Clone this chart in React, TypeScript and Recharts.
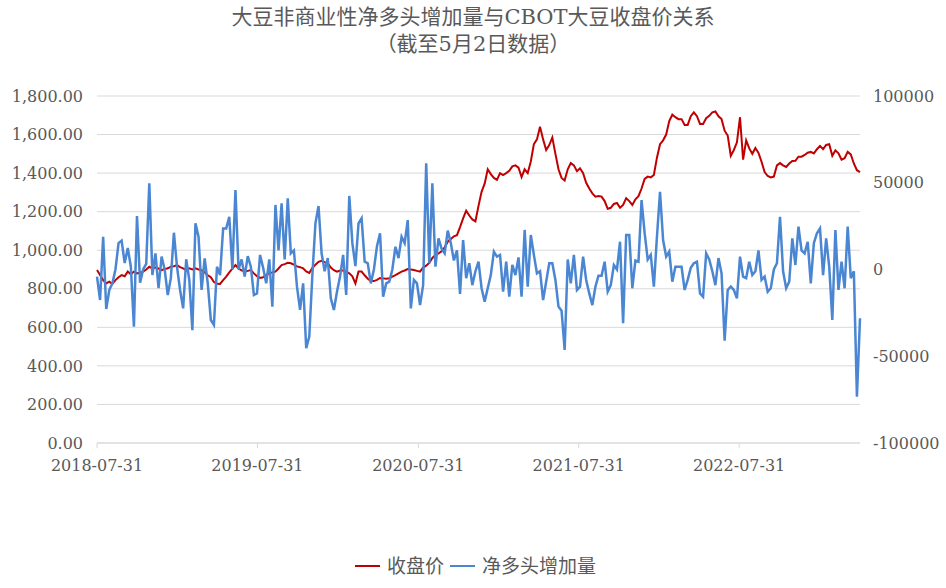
import { LineChart, Line, XAxis, YAxis, CartesianGrid } from "recharts";

// weekly data, first week 2018-07-31, last week 2023-05-02
const firstWeek = "2018-07-31";

const xTickLabels = ["2018-07-31", "2019-07-31", "2020-07-31", "2021-07-31", "2022-07-31"];
const priceTicks = [0, 200, 400, 600, 800, 1000, 1200, 1400, 1600, 1800];
const changeTicks = [-100000, -50000, 0, 50000, 100000];

// CBOT soybean close (left axis)
const closePrice = [
  897, 871, 845, 828, 837, 825, 845, 860, 871, 865,
  889, 875, 889, 880, 883, 889, 900, 914, 906, 910,
  905, 897, 902, 906, 915, 917, 923, 912, 906, 897,
  906, 900, 906, 900, 897, 885, 870, 860, 835, 826,
  825, 845, 863, 885, 905, 923, 905, 895, 889, 893,
  897, 880, 865, 856, 860, 872, 880, 885, 889, 905,
  923, 928, 935, 932, 925, 916, 912, 906, 890, 882,
  908, 925, 940, 945, 938, 932, 910, 896, 889, 895,
  895, 889, 880, 865, 828, 889, 889, 870, 852, 840,
  840, 846, 856, 854, 852, 855, 863, 871, 880, 889,
  895, 902, 900, 897, 893, 889, 910, 920, 935, 960,
  975, 983, 995, 1015, 1044, 1058, 1072, 1078, 1120, 1165,
  1205, 1180, 1160, 1150, 1230, 1303, 1345, 1420, 1395, 1375,
  1365, 1400, 1390, 1400, 1412, 1435, 1440, 1428, 1380, 1420,
  1400, 1460, 1550, 1575, 1640, 1575, 1520, 1545, 1585, 1500,
  1420, 1375, 1362, 1420, 1452, 1440, 1410, 1425, 1400, 1350,
  1320, 1295, 1278, 1281, 1278, 1255, 1215, 1220, 1240, 1245,
  1220, 1235, 1270, 1255, 1235, 1264, 1280, 1320, 1370, 1382,
  1378, 1390, 1480, 1550, 1570, 1600, 1670, 1703, 1690, 1680,
  1680, 1650, 1650, 1695, 1715, 1695, 1655, 1655, 1685, 1697,
  1715, 1720, 1695, 1680, 1620, 1595, 1490, 1520, 1560, 1690,
  1470, 1570, 1528, 1500, 1530, 1505, 1459, 1405, 1385, 1378,
  1382, 1440, 1452, 1440, 1432, 1450, 1463, 1464, 1485, 1485,
  1494, 1506, 1510, 1502, 1524, 1541, 1524, 1546, 1550, 1490,
  1518, 1503, 1470, 1477, 1510, 1497, 1450, 1415, 1405,
];

// non-commercial net long change (right axis)
const netLongChange = [
  -4150, -17600, 18900, -22800, -11800, -8000, 0, 15200, 16600, 3700,
  12400, 1600, -33000, 30800, -7600, 0, 3200, 49700, -3200, 9300,
  -10800, 7400, 0, -14700, -5000, 21200, 1600, -11800, -22400, 5900,
  -6000, -35000, 26600, 18900, -11800, 6400, -8000, -29100, -32000, 1600,
  -3200, 23700, 23700, 30400, 0, 45800, 0, 5800, -4100, 7700,
  1600, -14700, -13800, 8400, 1000, -8000, 5800, -21400, 37200, 11000,
  38200, 5800, 41000, 9300, 11000, -9900, -23300, -8000, -45400, -38700,
  -3200, 26600, 36600, 9300, -1000, 6600, -16600, -23300, -12800, -4100,
  8400, -14700, 42400, 15200, 1900, 26600, 29500, 4500, 3600, -8000,
  0, 13400, 20900, -15700, -8000, -7000, 0, 13100, 6600, 18900,
  15200, 28500, -22400, -6000, -8000, -20500, -9000, 61200, 3600, 49700,
  1600, 17900, 12000, 9300, 22400, 15200, 5200, 11000, -14100, 17000,
  -5000, 3600, -9000, -1000, 4500, -10800, -18500, -10800, -3200, 10300,
  7400, 8400, -12800, 4500, -15700, 2600, -3200, 7000, -15700, 22800,
  -9900, 19900, 8400, -2200, -1000, -17600, -7000, 3600, 3600, -6000,
  -21400, -23700, -46400, 5800, -8000, 8400, -11800, -9900, 7400, -6000,
  -13800, -20500, -9900, -3600, -3600, 4500, -12800, -9000, 2600, 0,
  16000, -31000, 19900, 19900, -10800, 5200, 4500, 40000, 20900, 5800,
  8400, -9900, 18900, 44800, 17000, 7400, 10300, -7000, 1600, 1600,
  1600, -11800, -6000, 1000, 3600, 4500, -13800, -15700, 9300, 5800,
  -1000, -9000, 6600, -2200, -41000, -11800, -9900, -11800, -16600, 7400,
  -4100, -5000, 4500, -3200, -1000, 11000, -6000, -4100, -12800, -10800,
  0, 3600, 30400, -1000, -10800, -7000, 17900, 2600, 24700, 11000,
  9300, 16000, -8000, 15200, 20900, 23700, -3200, 17900, 1600, -29100,
  22800, -11800, 4500, -10800, 24700, -5000, -1000, -73300, -28100,
];

const WEEK = 7 * 24 * 3600 * 1000;
const startMs = Date.parse(firstWeek);
const data = closePrice.map((price, i) => ({
  t: startMs + i * WEEK,
  price,
  change: netLongChange[i],
}));
const xDomain = [data[0].t, data[data.length - 1].t];
const xTicks = xTickLabels.map((d) => Date.parse(d));

const TEXT = "#595959";
const GRID = "#d9d9d9";
const FONT = '"DejaVu Serif", "Noto Sans CJK SC", serif';

const fmtDate = (t: number) => new Date(t).toISOString().slice(0, 10);
const fmtPrice = (v: number) =>
  v.toLocaleString("en-US", { minimumFractionDigits: 2, maximumFractionDigits: 2 });

function LegendItem({ color, label }: { color: string; label: string }) {
  return (
    <span style={{ display: "inline-flex", alignItems: "center", marginRight: 6 }}>
      <span
        style={{
          display: "inline-block",
          width: 25,
          height: 2,
          background: color,
          marginRight: 7,
        }}
      />
      <span>{label}</span>
    </span>
  );
}

export default function App() {
  return (
    <div
      style={{
        position: "absolute",
        left: 0,
        top: 0,
        width: 946,
        height: 588,
        background: "#fff",
        fontFamily: FONT,
        color: TEXT,
      }}
    >
      {/* title */}
      <div
        style={{
          position: "absolute",
          top: 4,
          left: 0,
          width: 946,
          textAlign: "center",
          fontSize: 21,
          lineHeight: "27px",
        }}
      >
        <div>大豆非商业性净多头增加量与CBOT大豆收盘价关系</div>
        <div>（截至5月2日数据）</div>
      </div>

      <LineChart
        width={946}
        height={588}
        data={data}
        margin={{ top: 96, right: 0, bottom: 115, left: 0 }}
      >
        <CartesianGrid yAxisId="left" vertical={false} stroke={GRID} />
        <XAxis
          dataKey="t"
          type="number"
          domain={xDomain}
          ticks={xTicks}
          interval={0}
          tickFormatter={fmtDate}
          height={30}
          axisLine={{ stroke: GRID }}
          tickLine={{ stroke: GRID }}
          tickSize={5}
          tickMargin={12}
          tick={{ fill: TEXT, fontSize: 16, fontFamily: FONT }}
        />
        <YAxis
          yAxisId="left"
          orientation="left"
          domain={[0, 1800]}
          ticks={priceTicks}
          interval={0}
          width={97}
          axisLine={false}
          tickLine={false}
          tickSize={6}
          tickMargin={8}
          tickFormatter={fmtPrice}
          tick={{ fill: TEXT, fontSize: 16, fontFamily: FONT }}
        />
        <YAxis
          yAxisId="right"
          orientation="right"
          domain={[-100000, 100000]}
          ticks={changeTicks}
          interval={0}
          width={86}
          axisLine={false}
          tickLine={false}
          tickSize={6}
          tickMargin={7}
          tick={{ fill: TEXT, fontSize: 16, fontFamily: FONT }}
        />
        <Line
          yAxisId="left"
          type="linear"
          dataKey="price"
          stroke="#c00000"
          strokeWidth={2}
          dot={false}
          isAnimationActive={false}
        />
        <Line
          yAxisId="right"
          type="linear"
          dataKey="change"
          stroke="#4a86d2"
          strokeWidth={2.5}
          dot={false}
          isAnimationActive={false}
        />
      </LineChart>

      {/* legend */}
      <div
        style={{
          position: "absolute",
          top: 547,
          left: 0,
          width: 946,
          display: "flex",
          justifyContent: "center",
          fontSize: 19,
          lineHeight: "26px",
        }}
      >
        <div style={{ marginLeft: 11 }}>
          <LegendItem color="#c00000" label="收盘价" />
          <LegendItem color="#4a86d2" label="净多头增加量" />
        </div>
      </div>
    </div>
  );
}
